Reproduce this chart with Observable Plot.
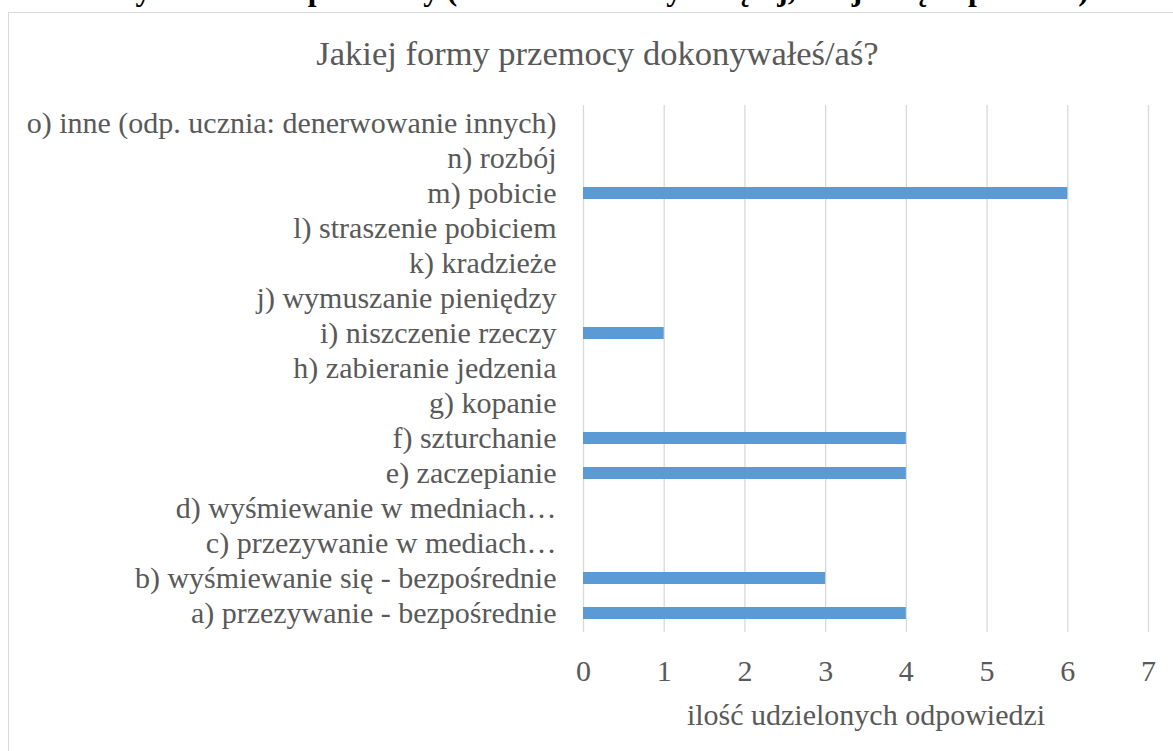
<!DOCTYPE html>
<html><head><meta charset="utf-8">
<script src="https://cdn.jsdelivr.net/npm/d3@7"></script>
<script src="https://cdn.jsdelivr.net/npm/@observablehq/plot@0.6"></script>
<style>
body{margin:0;background:#fff;width:1173px;height:751px;overflow:hidden;position:relative;font-family:'Liberation Serif','Times New Roman',serif;}
#q{position:absolute;left:-2px;top:-28px;font-weight:bold;font-size:31.5px;color:#000;white-space:nowrap;}
#frame{position:absolute;left:8px;top:12px;width:1200px;height:800px;border:1px solid #d9d9d9;}
#title{position:absolute;left:0;width:1195px;top:34px;text-align:center;font-size:34.5px;color:#595959;}
#chart{position:absolute;left:0;top:0;}
#chart svg text{font-family:'Liberation Serif','Times New Roman',serif;}
</style></head>
<body>
<div id="q">18. Jaka była to forma przemocy (możesz zaznaczyć więcej, niż jedną odpowiedź)</div>
<div id="frame"></div>
<div id="chart"></div>
<div id="title">Jakiej formy przemocy dokonywałeś/aś?</div>
<script>
const categories = [
  "o) inne (odp. ucznia: denerwowanie innych)",
  "n) rozbój",
  "m) pobicie",
  "l) straszenie pobiciem",
  "k) kradzieże",
  "j) wymuszanie pieniędzy",
  "i) niszczenie rzeczy",
  "h) zabieranie jedzenia",
  "g) kopanie",
  "f) szturchanie",
  "e) zaczepianie",
  "d) wyśmiewanie w medniach…",
  "c) przezywanie w mediach…",
  "b) wyśmiewanie się - bezpośrednie",
  "a) przezywanie - bezpośrednie"
];
const values = [0, 0, 6, 0, 0, 0, 1, 0, 0, 4, 4, 0, 0, 3, 4];
const xTicks = [0, 1, 2, 3, 4, 5, 6, 7];
const xLabel = "ilość udzielonych odpowiedzi";

const data = categories.map((c, i) => ({cat: c, value: values[i]}));

const chart = Plot.plot({
  width: 1173,
  height: 751,
  marginLeft: 583,
  marginRight: 25,
  marginTop: 105,
  marginBottom: 119,
  style: {fontFamily: "'Liberation Serif', serif", fontSize: "30px", background: "transparent", color: "#595959"},
  x: {domain: [0, 7], ticks: xTicks, tickFormat: "d"},
  y: {domain: categories, paddingInner: 0.65, paddingOuter: 0.3},
  marks: [
    Plot.ruleX(xTicks, {stroke: "#d9d9d9", strokeWidth: 1.3}),
    Plot.barX(data, {x: "value", y: "cat", fill: "#5b9bd5"}),
    Plot.axisX({ticks: xTicks, tickFormat: "d", tickSize: 0, tickPadding: 27, fontSize: 30, fill: "#595959",
      label: xLabel, labelAnchor: "center", labelArrow: "none", labelOffset: 92}),
    Plot.axisY({tickSize: 0, tickPadding: 27, fontSize: 30, fill: "#595959", label: null})
  ]
});
document.getElementById("chart").appendChild(chart);
</script>
</body></html>
